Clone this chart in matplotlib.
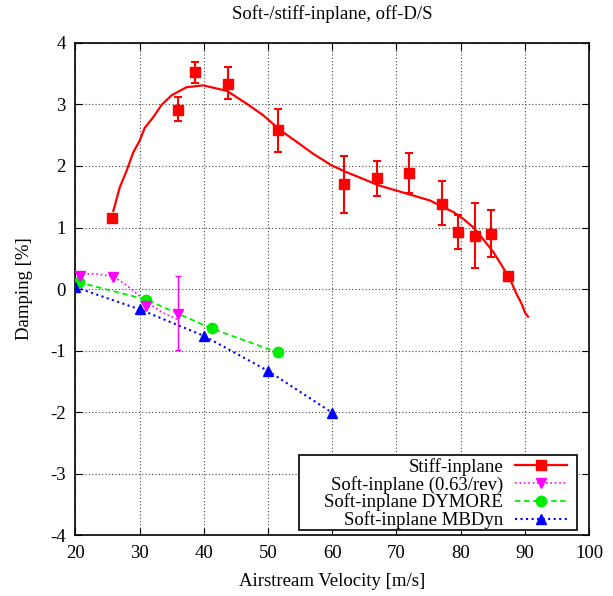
import matplotlib.pyplot as plt
from matplotlib.patches import Rectangle
import numpy as np

plt.rcParams['font.family'] = ['Liberation Serif', 'DejaVu Serif']
plt.rcParams['axes.unicode_minus'] = False

# Stiff-inplane measurements (with error bars)
stiff_v = [25.7, 36.0, 38.6, 43.8, 51.6, 61.8, 66.9, 72.0, 77.1, 79.6, 82.2, 84.8, 87.4]
stiff_d = [1.16, 2.91, 3.52, 3.34, 2.58, 1.71, 1.80, 1.88, 1.39, 0.92, 0.86, 0.90, 0.21]
stiff_hi = [1.16, 3.12, 3.69, 3.61, 2.93, 2.17, 2.08, 2.21, 1.75, 1.20, 1.40, 1.28, 0.21]
stiff_lo = [1.16, 2.73, 3.35, 3.09, 2.23, 1.24, 1.51, 1.56, 1.04, 0.65, 0.35, 0.52, 0.21]

# Stiff-inplane fitted curve
fit_v = [25.9, 26.2, 26.9, 28.0, 29.0, 30.0, 30.8, 32.1, 33.4, 35.0, 37.3, 39.9,
         43.6, 46.7, 49.3, 51.9, 54.5, 57.0, 59.9, 62.2, 64.8, 67.4, 70.0, 72.6,
         75.2, 77.3, 78.9, 80.4, 82.0, 83.5, 85.1, 86.6, 87.9, 88.7, 89.5, 90.0, 90.5]
fit_d = [1.27, 1.38, 1.65, 1.93, 2.22, 2.41, 2.62, 2.79, 2.99, 3.15, 3.28, 3.31,
         3.22, 3.01, 2.82, 2.58, 2.39, 2.20, 2.01, 1.90, 1.79, 1.68, 1.60, 1.52,
         1.44, 1.33, 1.25, 1.14, 1.00, 0.81, 0.60, 0.35, 0.11, -0.08, -0.24, -0.38, -0.45]

# Soft-inplane (0.63/rev)
soft_v = [20.7, 25.8, 31.0, 36.0]
soft_d = [0.21, 0.20, -0.28, -0.40]
soft_hi = [0.21, 0.20, -0.28, 0.22]
soft_lo = [0.21, 0.20, -0.28, -0.99]
soft_fit_v = [20.5, 23.0, 26.0, 28.0, 31.0, 33.5, 36.0]
soft_fit_d = [0.24, 0.25, 0.20, 0.06, -0.20, -0.38, -0.50]

# Soft-inplane DYMORE
dym_v = [20.5, 31.0, 41.2, 51.5]
dym_d = [0.11, -0.17, -0.64, -1.03]

# Soft-inplane MBDyn
mbd_v = [20.0, 30.0, 40.0, 50.0, 60.0]
mbd_d = [0.03, -0.33, -0.76, -1.33, -2.01]

fig = plt.figure(figsize=(6.13, 5.96), dpi=100)
ax = fig.add_axes([0.123, 0.102, 0.838, 0.826])

red, mag, grn, blu = '#ff0000', '#ff00ff', '#00ee00', '#0000ff'
fs = 13.5

# stiff-inplane
ax.plot(fit_v, fit_d, color=red, lw=1.6, zorder=3)
yerr = [np.array(stiff_d) - np.array(stiff_lo), np.array(stiff_hi) - np.array(stiff_d)]
ax.errorbar(stiff_v, stiff_d, yerr=yerr, fmt='none', ecolor=red, elinewidth=1.5,
            capsize=3, capthick=1.5, zorder=3)
ax.plot(stiff_v, stiff_d, 's', color=red, ms=7.5, zorder=4)
ax.plot([], [], '-s', color=red, lw=1.6, ms=7.5, label='Stiff-inplane')

# soft-inplane 0.63/rev
ax.plot(soft_fit_v, soft_fit_d, ':', color=mag, lw=1.2, zorder=3)
yerr2 = [np.array(soft_d) - np.array(soft_lo), np.array(soft_hi) - np.array(soft_d)]
ax.errorbar(soft_v, soft_d, yerr=yerr2, fmt='none', ecolor=mag, elinewidth=1.0,
            capsize=2, capthick=1.0, ls=':', zorder=3)
ax.plot(soft_v, soft_d, 'v', color=mag, ms=7.5, zorder=4)
ax.plot([], [], ':v', color=mag, lw=1.2, ms=7.5, label='Soft-inplane (0.63/rev)')

# DYMORE
ax.plot(dym_v, dym_d, '--o', color=grn, lw=1.3, ms=7.5, dashes=(3, 2),
        label='Soft-inplane DYMORE', zorder=3)

# MBDyn
ax.plot(mbd_v, mbd_d, ':^', color=blu, lw=1.5, ms=7.5,
        label='Soft-inplane MBDyn', zorder=3)

ax.set_xlim(20, 100)
ax.set_ylim(-4, 4)
ax.set_xticks(np.arange(20, 101, 10))
ax.set_yticks(np.arange(-4, 5, 1))
ax.tick_params(direction='in', length=5, top=True, right=True, labelsize=fs, pad=7)
ax.grid(True, ls=(0, (1, 2)), color='#444444', lw=0.8)
for s in ax.spines.values():
    s.set_linewidth(1.2)

ax.set_title('Soft-/stiff-inplane, off-D/S', fontsize=fs, pad=17)
ax.set_xlabel('Airstream Velocity [m/s]', fontsize=fs, labelpad=8)
ax.set_ylabel('Damping [%]', fontsize=fs, labelpad=12)

# legend box (gnuplot style)
ax.add_patch(Rectangle((0.435, 0.0102), 0.541, 0.152, transform=ax.transAxes,
                       facecolor='white', edgecolor='black', lw=1.2, zorder=5))
leg = ax.legend(loc='lower right', bbox_to_anchor=(0.957, 0.012), markerfirst=False,
                fontsize=fs, handlelength=2.8, frameon=False, borderpad=0,
                labelspacing=0.0, handletextpad=0.6, borderaxespad=0)
leg.set_zorder(6)

fig.savefig('out.png', dpi=100)
